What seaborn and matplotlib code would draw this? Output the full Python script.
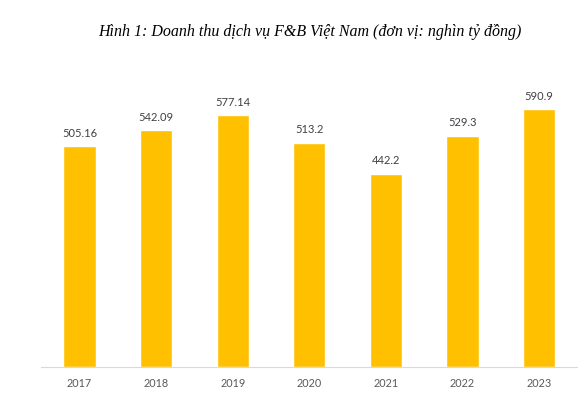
import numpy as np
import pandas as pd
import matplotlib
matplotlib.use("Agg")
import matplotlib.pyplot as plt
import seaborn as sns

years = ["2017", "2018", "2019", "2020", "2021", "2022", "2023"]
revenue = [505.16, 542.09, 577.14, 513.2, 442.2, 529.3, 590.9]
labels = ["505.16", "542.09", "577.14", "513.2", "442.2", "529.3", "590.9"]

df = pd.DataFrame({"year": years, "revenue": revenue})

sns.set_style("white")
plt.rcParams["font.family"] = ["Lato", "DejaVu Sans"]

fig = plt.figure(figsize=(5.88, 3.97), dpi=100)
ax = fig.add_axes([0.07, 0.0756, 0.912, 0.77])

sns.barplot(data=df, x="year", y="revenue", color="#FFC000", width=0.42,
            saturation=1, ax=ax)

# value labels above bars
for i, (v, t) in enumerate(zip(revenue, labels)):
    ax.text(i, v + 17, t, ha="center", va="bottom", fontsize=8, color="#404040")

ax.set_xlim(-0.5, 6.5)
ax.set_ylim(0, 700)
ax.set_xlabel("")
ax.set_ylabel("")
ax.set_yticks([])
for s in ["top", "right", "left"]:
    ax.spines[s].set_visible(False)
ax.spines["bottom"].set_color("#D9D9D9")
ax.spines["bottom"].set_linewidth(0.8)
ax.tick_params(axis="x", length=0, labelsize=7.8, colors="#595959", pad=8)

fig.text(0.527, 0.92, "Hình 1: Doanh thu dịch vụ F&B Việt Nam (đơn vị: nghìn tỷ đồng)",
         ha="center", va="center", fontsize=11.5, style="italic",
         family=["Liberation Serif", "DejaVu Serif"], color="#000000")

fig.savefig("out.png", dpi=100)
